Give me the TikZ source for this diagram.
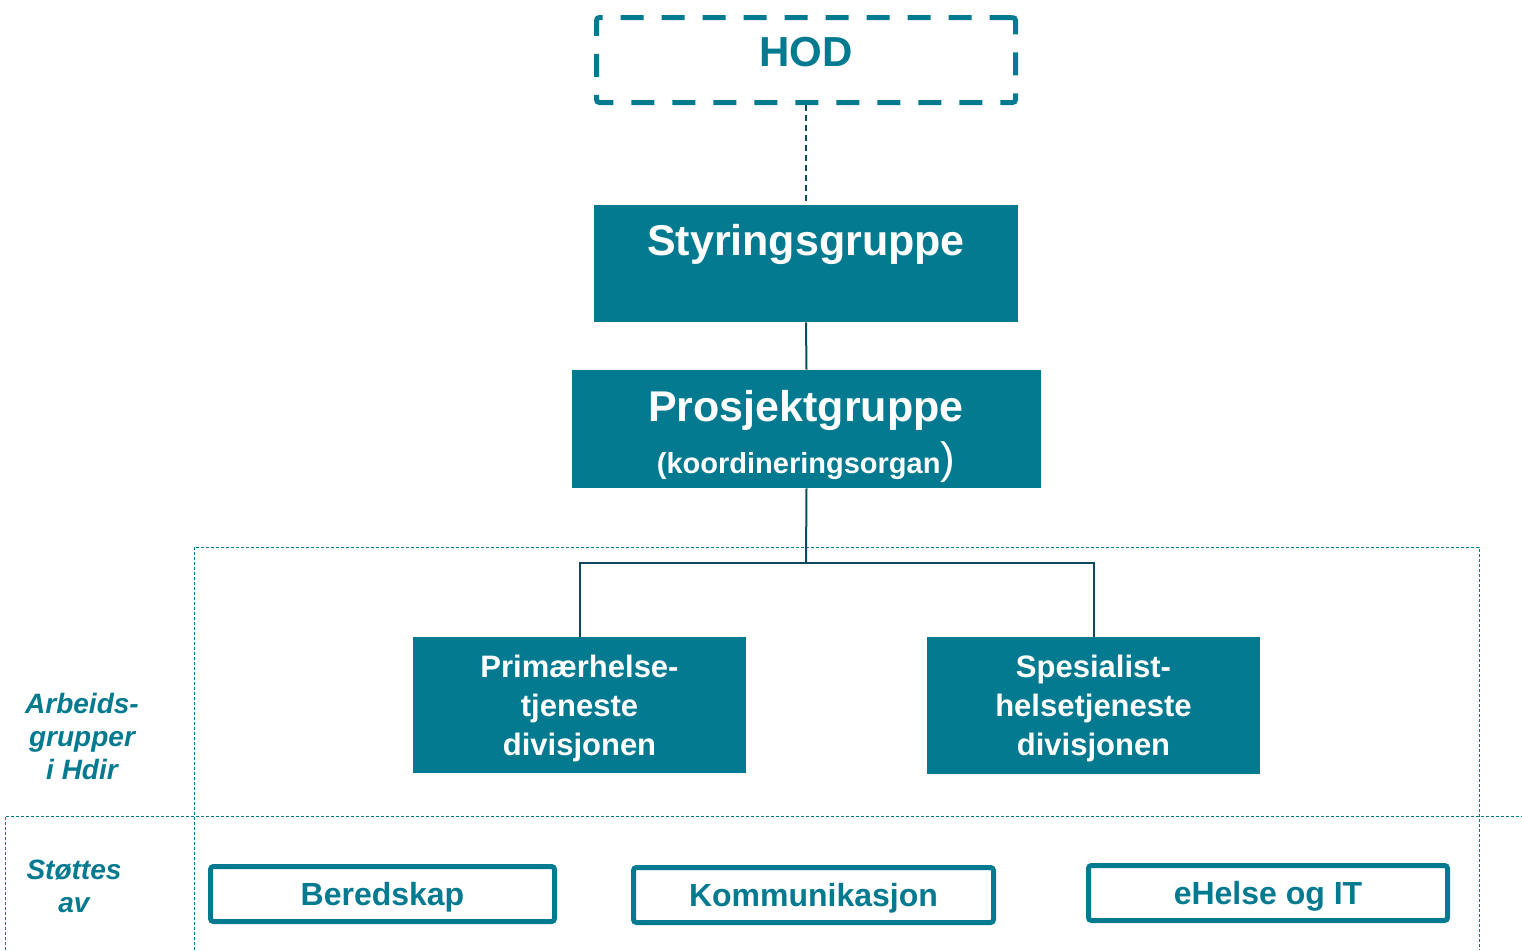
\documentclass[tikz,border=0pt]{standalone}
\usepackage{fontspec}
\setmainfont{Liberation Sans}
\definecolor{teal1}{HTML}{037A8F}
\definecolor{navy1}{HTML}{0D4A5E}
\begin{document}
\begin{tikzpicture}[x=0.5pt,y=-0.5pt,
  fillbox/.style={draw=none,fill=teal1,inner sep=0pt,text=white,font=\bfseries},
  outbox/.style={draw=teal1,line width=2.5pt,rounded corners=1.5pt,fill=white,inner sep=0pt,text=teal1,text height=11.5pt,text depth=0pt,font=\bfseries\fontsize{16}{19}\selectfont},
  divbox/.style={fillbox,minimum width=166.5pt,align=center,font=\bfseries\fontsize{15.5}{19.5}\selectfont},
  conn/.style={draw=navy1,line width=1pt},
  region/.style={draw=teal1,line width=0.5pt,dash pattern=on 1.5pt off 1pt},
  sidelabel/.style={text=teal1,font=\bfseries\itshape\fontsize{14}{16.5}\selectfont,align=center,inner sep=0pt}]
\useasboundingbox (0,0) rectangle (1522,950);
% region lines
\coordinate (rtl) at (194,547);
\coordinate (rtr) at (1479,547);
\coordinate (rbl) at (194,950);
\coordinate (rbr) at (1479,950);
\coordinate (hl) at (5,816);
\coordinate (hr) at (1522,816);
\coordinate (lb) at (5,950);
\draw[region] (rbl) -- (rtl) -- (rtr) -- (rbr);
\draw[region] (lb) -- (hl) -- (hr);
% HOD
\node[draw=teal1,line width=2.5pt,dash pattern=on 11.5pt off 9pt,rounded corners=1.5pt,minimum width=209.5pt,minimum height=42.5pt,inner sep=0pt] (hod) at (806,60) {};
\node[text=teal1,font=\bfseries\fontsize{21}{25}\selectfont,inner sep=0pt] (hodtxt) at (806,52) {HOD};
% Styringsgruppe
\node[fillbox,minimum width=212pt,minimum height=58.5pt] (sty) at (806,263.5) {};
\node[text=white,font=\bfseries\fontsize{21.5}{25}\selectfont,inner sep=0pt] (stytxt) at (806,244) {Styringsgruppe};
% Prosjektgruppe
\node[fillbox,minimum width=234.5pt,minimum height=59pt] (pro) at (806.5,429) {};
\node[text=white,font=\bfseries\fontsize{21.5}{25}\selectfont,inner sep=0pt] (protxt) at (806,410) {Prosjektgruppe};
\node[text=white,font=\bfseries\fontsize{14.5}{17}\selectfont,inner sep=0pt] (protxt2) at (806,462) {(koordineringsorgan{\fontsize{22}{24}\selectfont\mdseries)}};
% divisions
\node[divbox,minimum height=68pt] (prim) at (579.5,705) {};
\node[divbox,minimum height=68.5pt] (spes) at (1093.5,705.5) {};
\node[text=white,align=center,inner sep=0pt,font=\bfseries\fontsize{15.5}{19.5}\selectfont] (primtxt) at (579.5,708) {Primærhelse-\\tjeneste\\divisjonen};
\node[text=white,align=center,inner sep=0pt,font=\bfseries\fontsize{15.5}{19.5}\selectfont] (spestxt) at (1093.5,708) {Spesialist-\\helsetjeneste\\divisjonen};
% connectors
\draw[draw=navy1,line width=1pt,dash pattern=on 3pt off 2pt] (hod.south) -- (sty.north);
\draw[conn] (sty.south) -- (pro.north);
\coordinate (br) at (806,563);
\draw[conn] (pro.south) -- (br);
\draw[conn] (prim.north) |- (br) -| (spes.north);
% side labels
\node[sidelabel] (arb) at (82,736) {Arbeids-\\grupper\\i Hdir};
\node[sidelabel] (stot) at (74,886) {Støttes\\av};
% support boxes
\node[outbox,minimum width=172pt,minimum height=27.5pt] (bered) at (382.5,894) {Beredskap};
\node[outbox,minimum width=180pt,minimum height=27.5pt] (komm) at (813.5,895) {Kommunikasjon};
\node[outbox,minimum width=179.5pt,minimum height=27.5pt] (ehel) at (1268,893) {eHelse og IT};
\end{tikzpicture}
\end{document}
